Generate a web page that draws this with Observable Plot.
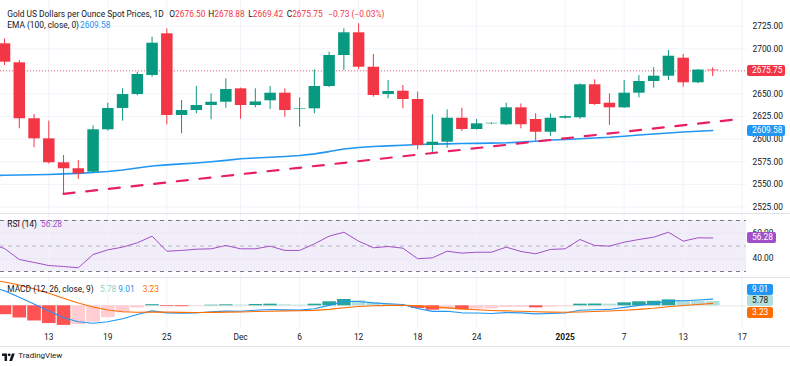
<!DOCTYPE html>
<html><head><meta charset="utf-8">
<script src="https://cdn.jsdelivr.net/npm/d3@7"></script>
<script src="https://cdn.jsdelivr.net/npm/@observablehq/plot@0.6"></script>
<style>
body{margin:0;background:#fff;}
#wrap{position:relative;width:790px;height:366px;overflow:hidden;background:#fff;font-family:Roboto,"Noto Sans",sans-serif;color:#131722;}
.sep{position:absolute;left:0;width:790px;height:1px;background:#e0e3eb;}
.lg{position:absolute;font-size:8.4px;line-height:10px;white-space:nowrap;color:#131722;}
.bx{position:absolute;height:11px;line-height:11px;font-size:8.4px;padding-left:5.5px;box-sizing:border-box;border-radius:2px;white-space:nowrap;}
</style></head><body><div id="wrap"></div>
<script>
// ---------- data ----------
const dates = ["2024-11-07","2024-11-08","2024-11-11","2024-11-12","2024-11-13","2024-11-14","2024-11-15","2024-11-18","2024-11-19","2024-11-20",
"2024-11-21","2024-11-22","2024-11-25","2024-11-26","2024-11-27","2024-11-28","2024-11-29","2024-12-02","2024-12-03","2024-12-04",
"2024-12-05","2024-12-06","2024-12-09","2024-12-10","2024-12-11","2024-12-12","2024-12-13","2024-12-16","2024-12-17","2024-12-18",
"2024-12-19","2024-12-20","2024-12-23","2024-12-24","2024-12-25","2024-12-26","2024-12-27","2024-12-30","2024-12-31","2025-01-01",
"2025-01-02","2025-01-03","2025-01-06","2025-01-07","2025-01-08","2025-01-09","2025-01-10","2025-01-13","2025-01-14","2025-01-15"];
const open = [2660,2705.5,2684.5,2622.6,2600.4,2573.9,2567.3,2563.5,2610.4,2634,
2649.4,2670.5,2716.6,2626.2,2631.7,2637.3,2640.9,2655.7,2637.3,2642.5,
2650.9,2632.8,2633.6,2658.3,2692.6,2717.7,2679.6,2649.4,2653.1,2643.9,
2593,2596.7,2623.2,2610.7,2617,2615.9,2634.7,2621.8,2607.7,2623.2,
2623.7,2660.2,2639.8,2634.7,2650.9,2663.8,2669.7,2689.6,2662.4,2676.5];
const high = [2710,2711,2687,2627.3,2620,2582,2576.4,2614.8,2639.8,2655.8,
2674,2712.8,2722.1,2642.8,2658.3,2650.2,2666.8,2656.5,2655.7,2658.3,
2655.7,2645.8,2676.8,2696.2,2722.1,2727.7,2693.7,2665,2659.4,2652,
2627,2632.5,2634.3,2621.8,2618,2639.8,2639,2628.1,2628.1,2626,
2661.3,2665.7,2650.2,2664.9,2670.5,2679,2698.1,2693.7,2677,2678.88];
const low = [2643,2681.5,2611.5,2590.5,2572.5,2539.6,2555.4,2562,2609,2620,
2648,2668.6,2615.9,2606,2628,2621.5,2634.3,2622.1,2634.7,2632.9,
2624.3,2613.3,2628.1,2657,2676,2676.8,2646.5,2644.7,2633.6,2588.3,
2585,2590,2608.5,2610,2616.4,2615,2611.5,2597.8,2603.3,2622.3,
2622,2637.3,2615.2,2634,2645.8,2656.4,2665,2657.5,2661.3,2669.42];
const close = [2705,2685.2,2622.6,2600.4,2573.9,2567.3,2561.7,2610.4,2634,2649.4,
2671.6,2706.2,2626.2,2631.7,2637.3,2640.9,2655,2637.3,2641.2,2650.9,
2631.7,2633.5,2658.3,2692.6,2717.7,2679.6,2648.3,2652.8,2643.9,2593,
2596.7,2623.2,2610.7,2617,2617.6,2634.7,2616,2607.7,2623.2,2625,
2660.2,2638.4,2634.7,2650.9,2663.8,2669.7,2691.8,2662.4,2676.48,2675.75];
const ema100 = [2559.6,2560.1,2560.4,2560.7,2561,2561.6,2562.2,2563.2,2564.3,2566,
2568.2,2570.4,2571.6,2572.7,2573.7,2575,2576.6,2578.3,2579.2,2580.1,
2580.9,2582,2583.8,2586.3,2589.2,2590.8,2591.9,2592.6,2593.3,2594.1,
2594.5,2594.8,2595.2,2595.4,2595.7,2596,2596.8,2597.8,2599.1,2599.7,
2600.5,2601.3,2602.1,2603.3,2604.6,2605.7,2606.9,2608,2608.8,2609.58];
const rsi14 = [52,48,39.4,37.1,34.7,33.9,32.9,43.3,47,49.1,
52.5,57.7,45.9,46.5,47.5,47.8,50.4,47.8,47.8,49.9,
46.5,46.5,51.7,57.7,60.8,53.8,48.6,49.6,48.3,40,
40.7,45.9,44.4,45.1,45.1,49.1,45.7,43.9,47.3,47.8,
55.1,50.4,49.9,53,55.1,56.9,60.8,53.8,56.4,56.28];
const macdLine = [26.2,20.2,11.5,2.4,-7.1,-16.2,-21.6,-23.6,-21.6,-17.5,
-11.7,-6.9,-9.6,-10.1,-9.7,-8.1,-7.2,-7.3,-6,-5.1,
-5.5,-5.8,-4,0.6,5.8,5.8,4,2.8,1.7,-3.7,
-7.5,-7.3,-9.5,-9.8,-10.5,-9.2,-9.6,-10.9,-10.4,-9.7,
-6.1,-5.3,-4.9,-2.1,0.6,2.8,6.7,6.8,7.9,9.01];
const signalLine = [35.2,32.2,28,22.9,16.9,10.3,3.9,-1.6,-5.6,-8,
-8.7,-8.4,-8.6,-8.9,-9.1,-8.9,-8.5,-8.3,-7.8,-7.3,
-6.9,-6.7,-6.2,-4.8,-2.7,-1,0,0.6,0.8,-0.1,
-1.6,-2.8,-4.1,-5.3,-6.3,-6.9,-7.4,-8.1,-8.6,-8.8,
-8.3,-7.7,-7.1,-6.1,-4.8,-3.3,-1.3,0.3,1.8,3.23];
const histogram = [-9,-12,-16.5,-20.5,-24,-26.5,-25.5,-22,-16,-9.5,
-3,1.5,-1,-1.2,-0.6,0.8,1.3,1,1.8,2.2,
1.4,0.9,2.2,5.4,8.5,6.8,4,2.2,0.9,-3.6,
-5.9,-4.5,-5.4,-4.5,-4.2,-2.3,-2.2,-2.8,-1.8,-0.9,
2.2,2.4,2.2,4,5.4,6.1,8,6.5,6.1,5.78];
const priceTicks = [2525,2550,2575,2600,2625,2650,2675,2700,2725];
const rsiTicks = [40,60];
const rsiBands = [30,50,70];
const timeTickDates = ["2024-11-13","2024-11-19","2024-11-25","2024-12-02","2024-12-06","2024-12-12","2024-12-18","2024-12-24","2025-01-01","2025-01-07","2025-01-13","2025-01-17"];
const timeTickLabels = ["13","19","25","Dec","6","12","18","24","2025","7","13","17"];
const trendDates = ["2024-11-14T00:00","2025-01-16T09:36"];
const trendValues = [2539.6,2621.5];

// ---------- helpers ----------
const UP="#089981", DOWN="#f23645", EMA_C="#2196f3", RSI_C="#a24fc8", MACD_C="#2196f3", SIG_C="#ff6d00";
const t0 = Date.UTC(2024,10,7);
function sessionIndex(s){
  const d = new Date(s.length===10 ? s+"T00:00:00Z" : s+":00Z");
  const day = Date.UTC(d.getUTCFullYear(), d.getUTCMonth(), d.getUTCDate());
  let k=0;
  for(let t=t0;t<day;t+=864e5){const wd=new Date(t).getUTCDay(); if(wd!==0&&wd!==6) k++;}
  return k + (d-day)/864e5;
}
const bars = dates.map((d,i)=>({k:sessionIndex(d), o:open[i], h:high[i], l:low[i], c:close[i],
  ema:ema100[i], rsi:rsi14[i], macd:macdLine[i], sig:signalLine[i], hist:histogram[i],
  col: close[i]>=open[i]?UP:DOWN}));
bars.forEach((b,i)=>{
  const prev = i>0 ? histogram[i-1] : null;
  if (b.hist>=0) b.hcol = (prev===null||b.hist>prev) ? "#26a69a" : "#b2dfdb";
  else b.hcol = (prev===null||b.hist<prev) ? "#ff5252" : "#ffcdd2";
});
const ticks = timeTickDates.map((d,i)=>({k:sessionIndex(d), label:timeTickLabels[i], bold:/^\d{4}$/.test(timeTickLabels[i])}));
const trend = trendDates.map((d,i)=>({k:sessionIndex(d), v:trendValues[i]}));
const last = bars[bars.length-1], prevClose = close[close.length-2];

const W=790, MR=44, FONT="Roboto, 'Noto Sans', sans-serif", FS="8.4px";
const xDomain=[0.726, 51.292];
const BOX_H=11, BOX_SP=11.8;
const baseStyle = {fontFamily:FONT, fontSize:FS, color:"#131722", background:"transparent"};
const wrap = document.getElementById("wrap");
function place(node, top){ node.style.position="absolute"; node.style.left="0px"; node.style.top=top+"px"; wrap.appendChild(node); }
// drop only axis labels that a value box hides completely
function visibleTicks(tickVals, boxVals, domain, h){
  const ppu = h/(domain[1]-domain[0]);
  return tickVals.filter(t => boxVals.every(b => Math.abs(t-b)*ppu > 3));
}
function boxes(plot, paneTop, items, boxW){
  const sy = plot.scale("y");
  const ys = items.map(it => paneTop + sy.apply(it.value));
  for(let it=0; it<100; it++){
    for(let j=1;j<ys.length;j++){
      const ov = BOX_SP - (ys[j]-ys[j-1]);
      if(ov>0){ ys[j-1]-=ov/2; ys[j]+=ov/2; }
    }
  }
  items.forEach((it,i)=>{
    const d=document.createElement("div"); d.className="bx";
    d.style.left=(W-MR+0.5)+"px"; d.style.top=(ys[i]-BOX_H/2)+"px"; d.style.width=boxW+"px";
    d.style.background=it.bg; d.style.color=it.fg; d.textContent=it.label;
    wrap.appendChild(d);
  });
}

// ---------- main price pane ----------
const mainDomain=[2517.81,2753.43];
const mainPlot = Plot.plot({
  width:W, height:213, marginLeft:0, marginRight:MR, marginTop:0, marginBottom:0,
  style:baseStyle,
  color:{type:"identity"},
  x:{domain:xDomain, axis:null},
  y:{domain:mainDomain, axis:"right", ticks:visibleTicks(priceTicks,[last.c,last.ema],mainDomain,213), tickFormat:d=>d.toFixed(2), tickSize:0, tickPadding:6, label:null},
  marks:[
    Plot.ruleY(priceTicks,{stroke:"#f0f3fa"}),
    Plot.ruleX(ticks,{x:"k", stroke:"#f0f3fa"}),
    Plot.ruleY([last.c],{stroke:DOWN, strokeOpacity:0.75, strokeDasharray:"1,2"}),
    Plot.line(bars,{x:"k", y:"ema", stroke:EMA_C, strokeWidth:1.6}),
    Plot.ruleX(bars,{x:"k", y1:"l", y2:"h", stroke:"col", strokeWidth:1}),
    Plot.ruleX(bars,{x:"k", y1:"o", y2:"c", stroke:"col", strokeWidth:11.5}),
    Plot.line(trend,{x:"k", y:"v", stroke:"#e91e63", strokeWidth:2.2, strokeDasharray:"11,11.8"})
  ]
});
place(mainPlot,0);

// ---------- RSI pane ----------
const rsiDomain=[25.29,74.71];
const rsiPlot = Plot.plot({
  width:W, height:63, marginLeft:0, marginRight:MR, marginTop:0, marginBottom:0,
  style:baseStyle,
  x:{domain:xDomain, axis:null},
  y:{domain:rsiDomain, axis:"right", ticks:visibleTicks(rsiTicks,[last.rsi],rsiDomain,63), tickFormat:d=>d.toFixed(2), tickSize:0, tickPadding:6, label:null},
  marks:[
    Plot.rect([{a:xDomain[0], b:xDomain[1], lo:rsiBands[0], hi:rsiBands[2]}],{x1:"a", x2:"b", y1:"lo", y2:"hi", fill:"#7e57c2", fillOpacity:0.1}),
    Plot.ruleY(rsiTicks,{stroke:"#e9e6f2"}),
    Plot.ruleX(ticks,{x:"k", stroke:"#f0f3fa", strokeOpacity:0.8}),
    Plot.ruleY([rsiBands[0],rsiBands[2]],{stroke:"#787b86", strokeDasharray:"4,4"}),
    Plot.ruleY([rsiBands[1]],{stroke:"#787b86", strokeOpacity:0.5, strokeDasharray:"4,4"}),
    Plot.line(bars,{x:"k", y:"rsi", stroke:RSI_C, strokeWidth:1})
  ]
});
place(rsiPlot,214);

// ---------- MACD pane + time axis ----------
const macdPlot = Plot.plot({
  width:W, height:69, marginLeft:0, marginRight:MR, marginTop:0, marginBottom:19,
  style:baseStyle,
  color:{type:"identity"},
  x:{domain:xDomain, axis:null},
  y:{domain:[-30.68,36.89], axis:null},
  marks:[
    Plot.ruleX(ticks,{x:"k", stroke:"#f0f3fa"}),
    Plot.ruleY([0],{stroke:"#787b86", strokeOpacity:0.2}),
    Plot.ruleX(bars,{x:"k", y1:()=>0, y2:"hist", stroke:"hcol", strokeWidth:13.6}),
    Plot.line(bars,{x:"k", y:"macd", stroke:MACD_C, strokeWidth:1.1}),
    Plot.line(bars,{x:"k", y:"sig", stroke:SIG_C, strokeWidth:1.1}),
    Plot.text(ticks.filter(d=>!d.bold),{x:"k", text:"label", frameAnchor:"bottom", dy:11, fill:"#131722"}),
    Plot.text(ticks.filter(d=>d.bold),{x:"k", text:"label", frameAnchor:"bottom", dy:11, fill:"#131722", fontWeight:"bold"})
  ]
});
place(macdPlot,278);

// ---------- separators ----------
[213,277,346].forEach(y=>{const s=document.createElement("div"); s.className="sep"; s.style.top=y+"px"; wrap.appendChild(s);});

// ---------- price-axis value boxes ----------
boxes(mainPlot,0,[{value:last.c,label:last.c.toFixed(2),bg:DOWN,fg:"#fff"}],38.5);
boxes(mainPlot,0,[{value:last.ema,label:last.ema.toFixed(2),bg:EMA_C,fg:"#fff"}],38.5);
boxes(rsiPlot,214,[{value:last.rsi,label:last.rsi.toFixed(2),bg:RSI_C,fg:"#fff"}],29.5);
boxes(macdPlot,278,[
  {value:last.macd,label:last.macd.toFixed(2),bg:MACD_C,fg:"#fff"},
  {value:last.hist,label:last.hist.toFixed(2),bg:"#b2dfdb",fg:"#131722"},
  {value:last.sig,label:last.sig.toFixed(2),bg:SIG_C,fg:"#fff"}],26);

// ---------- legends ----------
function lg(x,top,parts){
  const d=document.createElement("div"); d.className="lg"; d.style.left=x+"px"; d.style.top=top+"px";
  parts.forEach(([t,c,w])=>{const s=document.createElement("span"); s.textContent=t; if(c) s.style.color=c; if(w) s.style.fontWeight=w; d.appendChild(s);});
  wrap.appendChild(d);
}
const chg = last.c - prevClose, pct = chg/prevClose*100;
const fmtS = v => (v<0?"\u2212":"+")+Math.abs(v).toFixed(2);
lg(7.3,9.4,[["Gold US Dollars per Ounce Spot Prices, 1D"]]);
lg(169.3,9.4,[["O"],[last.o.toFixed(2),DOWN]]);
lg(208.3,9.4,[["H"],[last.h.toFixed(2),DOWN]]);
lg(248.3,9.4,[["L"],[last.l.toFixed(2),DOWN]]);
lg(286.7,9.4,[["C"],[last.c.toFixed(2),DOWN]]);
lg(328.3,9.4,[[fmtS(chg)+" ("+fmtS(pct)+"%)",DOWN]]);
lg(7.3,19.8,[["EMA (100, close, 0)"]]);
lg(80,19.8,[[last.ema.toFixed(2),EMA_C]]);
lg(7.3,219.4,[["RSI (14)"]]);
lg(41,219.4,[[last.rsi.toFixed(2),RSI_C]]);
lg(7.3,284.1,[["MACD (12, 26, close, 9)"]]);
lg(100,284.1,[[last.hist.toFixed(2),"#8fd0c8"]]);
lg(118.3,284.1,[[last.macd.toFixed(2),MACD_C]]);
lg(142.7,284.1,[[last.sig.toFixed(2),SIG_C]]);

// ---------- TradingView mark ----------
const logo = document.createElementNS("http://www.w3.org/2000/svg","svg");
logo.setAttribute("width","13"); logo.setAttribute("height","8"); logo.setAttribute("viewBox","0 0 36 22");
logo.style.position="absolute"; logo.style.left="1.5px"; logo.style.top="352.5px";
logo.innerHTML='<path d="M14 22H7V8H0V1h14v21zM28 22h-8L27.5 1h8L28 22z" fill="#131722"/><circle cx="20" cy="5" r="4" fill="#131722"/>';
wrap.appendChild(logo);
const tv=document.createElement("div"); tv.className="lg"; tv.style.left="18.3px"; tv.style.top="350.8px"; tv.style.fontSize="8px"; tv.textContent="TradingView";
wrap.appendChild(tv);
</script></body></html>
